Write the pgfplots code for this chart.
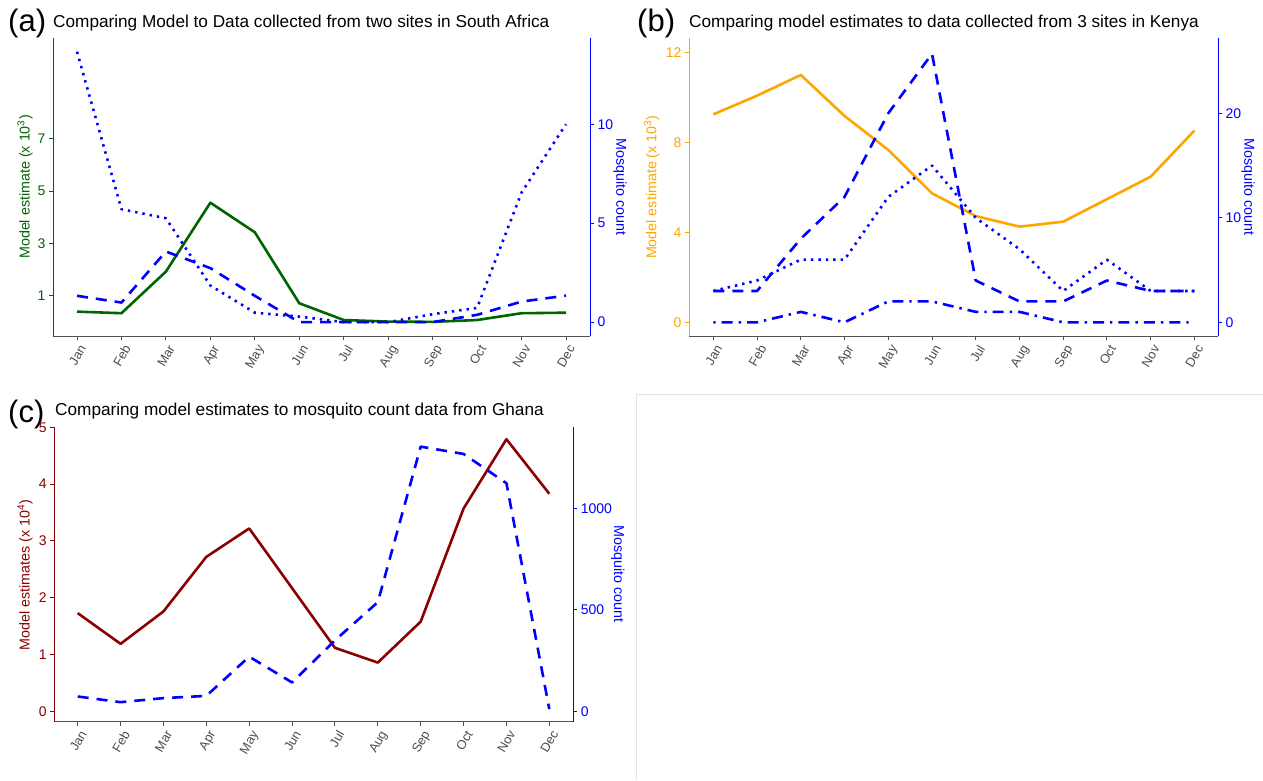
\documentclass[border=0pt]{standalone}
\usepackage{fontspec}
\setmainfont{Liberation Sans}
\usepackage{pgfplots}
\pgfplotsset{compat=1.18}
\definecolor{dgreen}{HTML}{006400}
\definecolor{orng}{HTML}{FFA500}
\definecolor{dred}{HTML}{8B0000}
\definecolor{tgray}{HTML}{4D4D4D}
\definecolor{agray}{HTML}{505050}
\definecolor{blu}{HTML}{0000FF}
\definecolor{boxgray}{HTML}{E3E3E3}
\pgfplotsset{
  base/.style={scale only axis, anchor=south west, tick align=outside,
    major tick length=4pt, /pgf/number format/assume math mode=true,
    /pgf/number format/1000 sep={}, clip=false},
  leftax/.style={base, axis x line*=bottom, axis y line*=left,
    x axis line style={agray, line width=0.9pt},
    y axis line style={#1, line width=0.9pt},
    xtick={1,...,12},
    xticklabels={Jan,Feb,Mar,Apr,May,Jun,Jul,Aug,Sep,Oct,Nov,Dec},
    xtick style={agray, line width=0.9pt},
    ytick style={#1, line width=0.9pt},
    xticklabel style={rotate=60, anchor=north east, xshift=1pt, font=\fontsize{12.8}{14}\selectfont, text=tgray},
    yticklabel style={font=\fontsize{14}{16}\selectfont, text=#1},
    ylabel style={font=\fontsize{14.3}{16}\selectfont, text=#1, anchor=center}},
  rightax/.style={base, axis x line=none, axis y line*=right,
    y axis line style={blu, line width=0.9pt},
    ytick style={blu, line width=0.9pt},
    yticklabel style={font=\fontsize{14}{16}\selectfont, text=blu},
    ylabel style={font=\fontsize{14.3}{16}\selectfont, text=blu, anchor=center, rotate=180}},
  solid line/.style={#1, line width=2.6pt, line join=round},
  dashed line/.style={blu, line width=2.6pt, line join=round, dash pattern=on 11pt off 8pt},
  dotted line/.style={blu, line width=2.6pt, line join=round, dash pattern=on 2.4pt off 5pt},
  dotdash line/.style={blu, line width=2.6pt, line join=round, dash pattern=on 2.4pt off 6pt on 11pt off 6pt},
}
\begin{document}
\begin{tikzpicture}[x=1pt,y=1pt]
\useasboundingbox (0,0) rectangle (1263,780);
% light panel frame of empty slot
\draw[boxgray, line width=1pt] (636,0) -- (636,385) -- (1263,385);

% ---------- titles ----------
\node[anchor=base west, inner sep=0, font=\fontsize{31}{33}\selectfont] at (8,748) {(a)};
\node[anchor=base west, inner sep=0, font=\fontsize{17.2}{19}\selectfont] at (53,752.3) {Comparing Model to Data collected from two sites in South Africa};
\node[anchor=base west, inner sep=0, font=\fontsize{31}{33}\selectfont] at (637,748) {(b)};
\node[anchor=base west, inner sep=0, font=\fontsize{17.2}{19}\selectfont] at (689,752.3) {Comparing model estimates to data collected from 3 sites in Kenya};
\node[anchor=base west, inner sep=0, font=\fontsize{31}{33}\selectfont] at (8,357) {(c)};
\node[anchor=base west, inner sep=0, font=\fontsize{17.2}{19}\selectfont] at (55,364.3) {Comparing model estimates to mosquito count data from Ghana};

% ---------- panel (a) ----------
\begin{axis}[leftax=dgreen, at={(53pt,444pt)}, width=537pt, height=298pt,
  xmin=0.46, xmax=12.54, ymin=-0.53, ymax=10.85, ytick={1,3,5,7},
  ylabel={Model estimate (x 10\textsuperscript{3})},
  ylabel style={at={(axis description cs:-0.0521,0.5)}}]
\addplot[solid line=dgreen] coordinates {(1,0.40)(2,0.34)(3,1.93)(4,4.56)(5,3.43)(6,0.72)(7,0.08)(8,0.02)(9,0.01)(10,0.08)(11,0.34)(12,0.36)};
\end{axis}
\begin{axis}[rightax, at={(53pt,444pt)}, width=537pt, height=298pt,
  xmin=0.46, xmax=12.54, ymin=-0.70, ymax=14.36, ytick={0,5,10},
  ylabel={Mosquito count},
  ylabel style={at={(axis description cs:1.0559,0.5)}}]
\addplot[dotted line] coordinates {(1,13.67)(2,5.71)(3,5.25)(4,1.85)(5,0.48)(6,0.28)(7,0)(8,0)(9,0.4)(10,0.72)(11,6.55)(12,10)};
\addplot[dashed line] coordinates {(1,1.33)(2,0.99)(3,3.57)(4,2.73)(5,1.33)(6,0)(7,0)(8,0)(9,0)(10,0.37)(11,1.04)(12,1.34)};
\end{axis}

% ---------- panel (b) ----------
\begin{axis}[leftax=orng, at={(689pt,444pt)}, width=529pt, height=297.7pt,
  xmin=0.444, xmax=12.54, ymin=-0.61, ymax=12.62, ytick={0,4,8,12},
  ylabel={Model estimate (x 10\textsuperscript{3})},
  ylabel style={at={(axis description cs:-0.0705,0.5)}}]
\addplot[solid line=orng] coordinates {(1,9.24)(2,10.07)(3,10.99)(4,9.17)(5,7.66)(6,5.73)(7,4.72)(8,4.25)(9,4.47)(10,5.47)(11,6.47)(12,8.52)};
\end{axis}
\begin{axis}[rightax, at={(689pt,444pt)}, width=529pt, height=297.7pt,
  xmin=0.444, xmax=12.54, ymin=-1.31, ymax=27.18, ytick={0,10,20},
  ylabel={Mosquito count},
  ylabel style={at={(axis description cs:1.0567,0.5)}}]
\addplot[dashed line] coordinates {(1,3)(2,3)(3,8)(4,12)(5,20)(6,25.7)(7,4)(8,2)(9,2)(10,4)(11,3)(12,3)};
\addplot[dotted line] coordinates {(1,3)(2,4)(3,6)(4,6)(5,12)(6,15)(7,10)(8,7)(9,3)(10,6)(11,3)(12,3)};
\addplot[dotdash line] coordinates {(1,0)(2,0)(3,1)(4,0)(5,2)(6,2)(7,1)(8,1)(9,0)(10,0)(11,0)(12,0)};
\end{axis}

% ---------- panel (c) ----------
\begin{axis}[leftax=dred, at={(54.3pt,58.3pt)}, width=519pt, height=295pt,
  xmin=0.454, xmax=12.56, ymin=-0.18, ymax=5.01, ytick={0,1,2,3,4,5},
  ylabel={Model estimates (x 10\textsuperscript{4})},
  ylabel style={at={(axis description cs:-0.0565,0.497)}}]
\addplot[solid line=dred] coordinates {(1,1.73)(2,1.19)(3,1.76)(4,2.72)(5,3.22)(6,2.17)(7,1.12)(8,0.86)(9,1.58)(10,3.57)(11,4.79)(12,3.83)};
\end{axis}
\begin{axis}[rightax, at={(54.3pt,58.3pt)}, width=519pt, height=295pt,
  xmin=0.454, xmax=12.56, ymin=-50, ymax=1401, ytick={0,500,1000},
  ylabel={Mosquito count},
  ylabel style={at={(axis description cs:1.086,0.5)}}]
\addplot[dashed line] coordinates {(1,74)(2,46)(3,66)(4,77)(5,270)(6,143)(7,350)(8,538)(9,1303)(10,1267)(11,1123)(12,12)};
\end{axis}
\end{tikzpicture}
\end{document}
